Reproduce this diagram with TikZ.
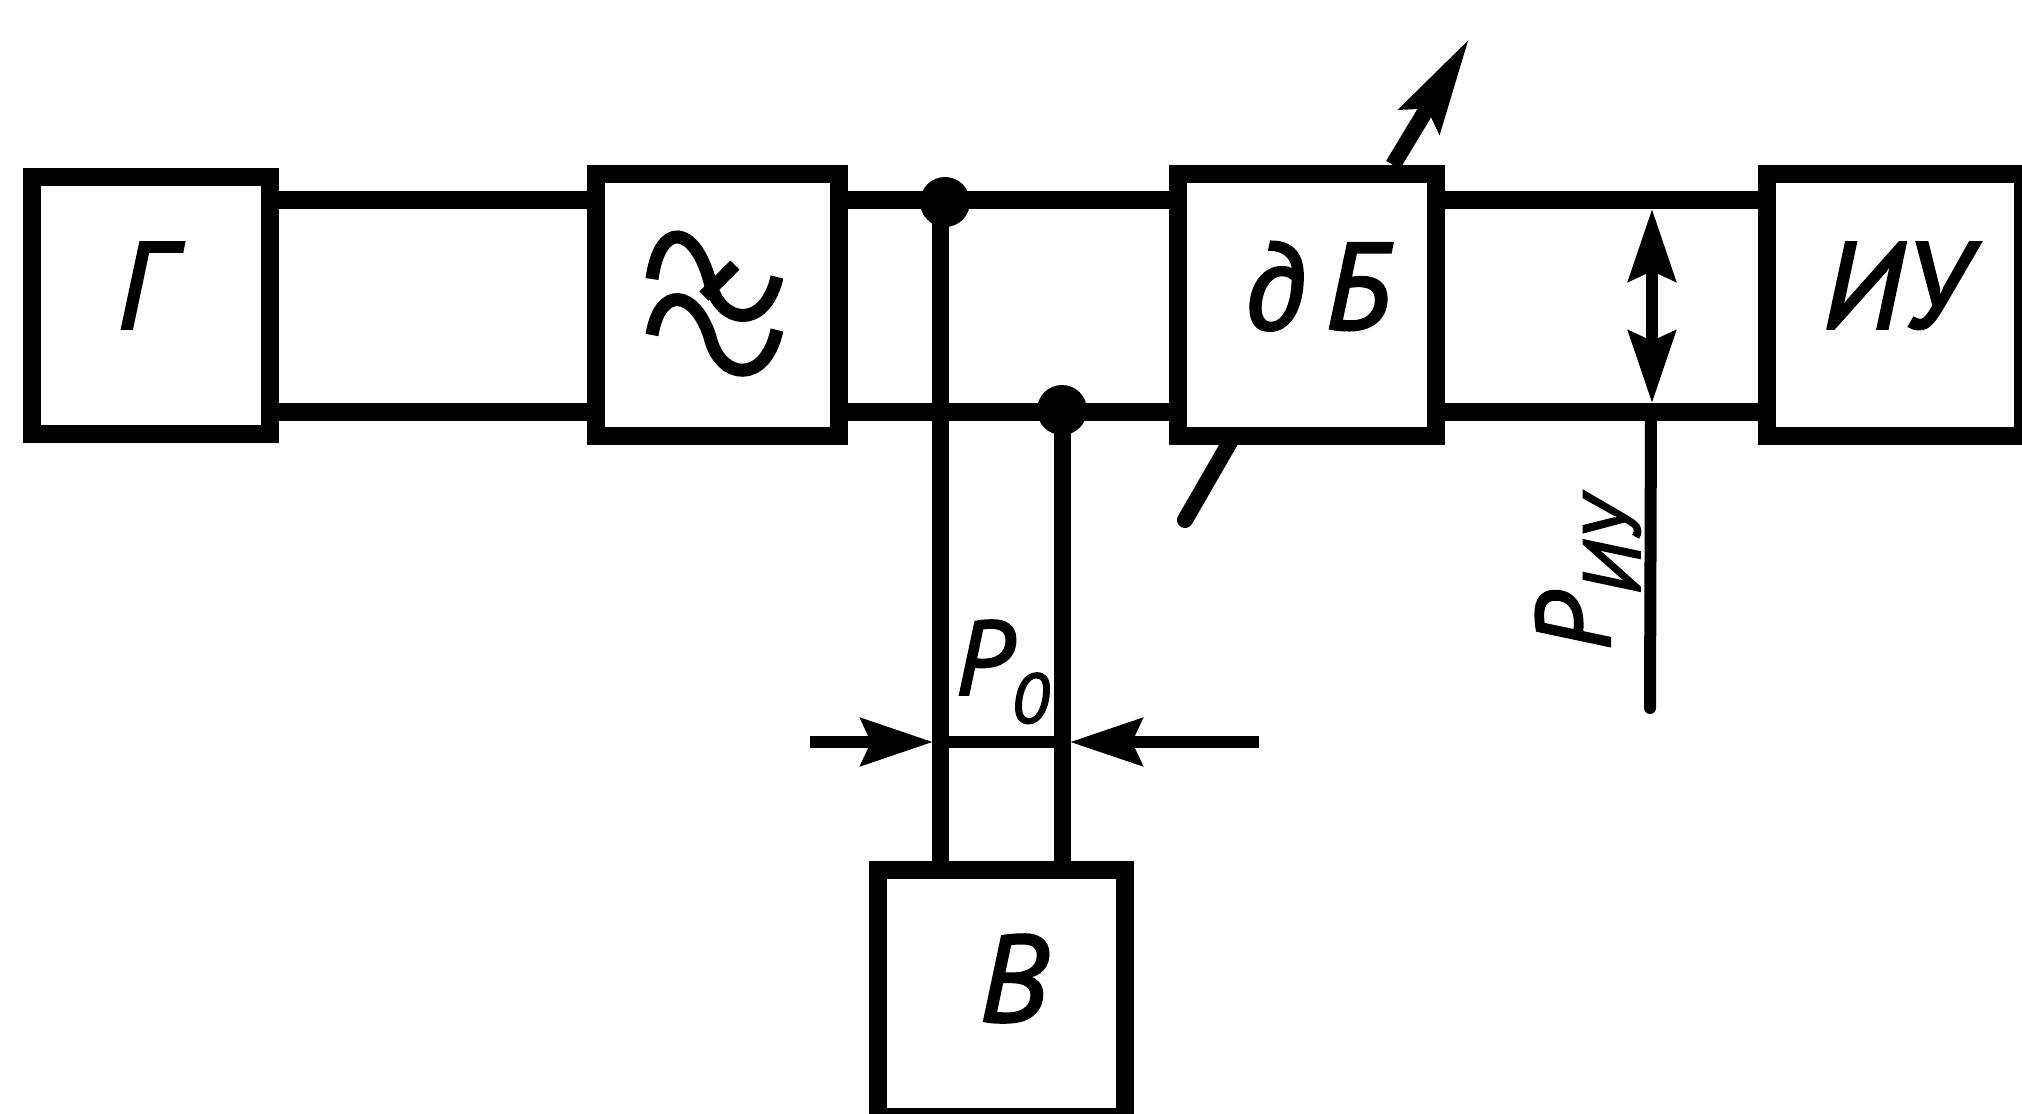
\documentclass[tikz,border=0pt]{standalone}
\usepackage{fontspec}
\setmainfont[ItalicFeatures={FakeBold=2}]{PT Sans}
\usetikzlibrary{calc}
\usetikzlibrary{arrows.meta}
\tikzset{
  gaugetip/.tip={Stealth[length=0.72cm, width=0.47cm, inset=0.1cm]},
  block/.style={draw, line width=0.18cm, inner sep=0pt, font=\fontsize{35}{35}\selectfont\itshape},
  wire/.style={line width=0.18cm},
  lead/.style={line width=0.17cm},
  gauge/.style={line width=0.12cm},
  tune/.style={line width=0.16cm},
  labeltext/.style={inner sep=0pt, font=\fontsize{30}{30}\selectfont\itshape},
  dot/.style={circle, fill, inner sep=0pt, minimum size=0.5cm}
}
\newcommand{\feedline}[2]{
\draw[wire] ($(#1.east) + (0, -1.05)$) -- ($(#2.west) + (0, -1.05)$);
\draw[wire] ($(#1.east) + (0, 1.07)$)  -- ($(#2.west) + (0, 1.07)$);
}
\begin{document}
\begin{tikzpicture}[y=-1cm]
\useasboundingbox (0, 0) rectangle (20.22, 11.14);
\node[block, minimum width=2.38cm, minimum height=2.57cm] at (1.51, 3.05) (gen) {\raisebox{0.39cm}{\hspace{-0.16cm}Г}};
\node[block, minimum width=2.43cm, minimum height=2.62cm] at (7.175, 3.05) (lpf) {};
\node[block, minimum width=2.58cm, minimum height=2.62cm] at (13.07, 3.05) (att) {\raisebox{0.39cm}{\hspace{0.2cm}д\hspace{0.2cm}Б}};
\node[block, minimum width=2.56cm, minimum height=2.62cm] at (18.95, 3.05) (ind) {\raisebox{0.39cm}{ИУ}};
\node[block, minimum width=2.47cm, minimum height=2.47cm] at (10.015, 9.935) (rec) {\raisebox{0.31cm}{\hspace{0.24cm}В}};
\feedline{gen}{lpf}
\feedline{lpf}{att}
\feedline{att}{ind}
% filter sign
\draw[line width=0.13cm] (6.52, 2.79) .. controls (6.6, 2.2) and (6.95, 2.25) .. (7.1, 2.82) .. controls (7.2, 3.25) and (7.65, 3.3) .. (7.77, 2.77);
\draw[line width=0.13cm] (6.52, 3.35) .. controls (6.6, 2.85) and (6.95, 2.9) .. (7.1, 3.37) .. controls (7.2, 3.8) and (7.65, 3.85) .. (7.77, 3.3);
\draw[line width=0.13cm] (7.35, 2.65) -- (7.04, 2.96);
% taps to the voltmeter
\node[dot] at (9.45, 2.02) (tapa) {};
\node[dot] at (10.62, 4.1) (tapb) {};
\coordinate (leada) at ($(tapa.center) + (-0.05, 0)$);
\draw[lead] (leada) -- (leada |- rec.north);
\draw[lead] (tapb.center) -- (tapb.center |- rec.north);
% power arrows
\coordinate (pleft) at (8.1, 7.42);
\coordinate (pright) at (12.59, 7.42);
\coordinate (pa) at (9.33, 7.42);
\coordinate (pb) at (10.7, 7.42);
\draw[gauge, -gaugetip] (pleft) -- (pa);
\draw[gauge, -gaugetip] (pright) -- (pb);
\draw[gauge] (pa) -- (pb);
\coordinate (utop) at (16.52, 2.09);
\coordinate (ubot) at (16.52, 4.03);
\coordinate (uwire) at (16.51, 4.12);
\coordinate (uend) at (16.5, 7.08);
\draw[gauge, gaugetip-gaugetip] (ubot) -- (utop);
\draw[gauge, line cap=round] (uwire) -- (uend);
% tuning arrow
\coordinate (tunelow) at (11.85, 5.2);
\coordinate (tunebase) at (12.3, 4.42);
\coordinate (tunetop) at (13.93, 1.65);
\coordinate (tunetip) at (14.69, 0.39);
\draw[tune, line cap=round] (tunelow) -- (tunebase);
\draw[tune, -{Stealth[length=0.95cm, width=0.46cm, inset=0.14cm]}] (tunetop) -- (tunetip);
% labels
\node[labeltext] at (10.02, 6.72) (pzero) {P{\raisebox{-0.28cm}{\fontsize{20}{20}\selectfont 0}}};
\node[labeltext, rotate=90] at (15.88, 5.75) (pind) {P{\raisebox{-0.3cm}{\fontsize{23}{23}\selectfont ИУ}}};
\end{tikzpicture}
\end{document}
